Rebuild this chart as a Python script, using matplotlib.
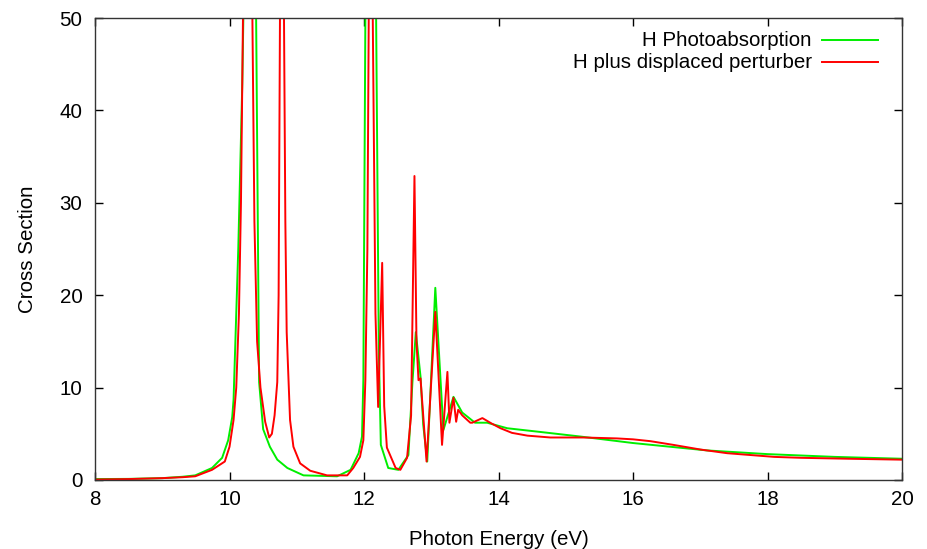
import numpy as np
import matplotlib.pyplot as plt
from matplotlib.lines import Line2D

plt.rcParams['font.family'] = ['Liberation Sans', 'DejaVu Sans']

# H photoabsorption (eV, cross section)
E_h = [8.0, 8.5, 9.0, 9.3, 9.49, 9.74, 9.89, 9.98, 10.04, 10.06, 10.13, 10.19,
       10.21, 10.30, 10.39, 10.44, 10.50, 10.60, 10.71, 10.86, 11.1, 11.6, 11.8,
       11.92, 11.97, 11.99, 12.02, 12.10, 12.18, 12.22, 12.25, 12.36, 12.51, 12.66,
       12.72, 12.77, 12.84, 12.88, 12.94, 13.06, 13.18, 13.33, 13.46, 13.65, 13.83,
       14.13, 14.62, 15.22, 16.0, 17.1, 18.0, 19.0, 20.0]
sig_h = [0.1, 0.12, 0.2, 0.35, 0.5, 1.3, 2.4, 4.3, 6.8, 8.7, 25.0, 43.0,
         52.0, 200.0, 55.0, 10.6, 5.5, 3.6, 2.2, 1.3, 0.5, 0.4, 1.1,
         2.9, 4.7, 10.8, 50.0, 200.0, 50.0, 14.0, 3.8, 1.3, 1.1, 2.7,
         10.6, 16.0, 11.2, 6.0, 2.0, 20.8, 5.4, 9.0, 7.3, 6.2, 6.2,
         5.6, 5.2, 4.7, 4.0, 3.2, 2.8, 2.5, 2.3]

# H with displaced perturber
E_p = [8.0, 8.5, 9.0, 9.3, 9.49, 9.74, 9.93, 10.0, 10.06, 10.10, 10.14, 10.17,
       10.20, 10.27, 10.34, 10.37, 10.41, 10.46, 10.53, 10.59, 10.63, 10.67, 10.71,
       10.73, 10.75, 10.78, 10.81, 10.83, 10.85, 10.90, 10.95, 11.05, 11.2, 11.45,
       11.75, 11.84, 11.94, 11.99, 12.02, 12.05, 12.07, 12.10, 12.13, 12.17, 12.21,
       12.27, 12.30, 12.34, 12.47, 12.54, 12.64, 12.70, 12.75, 12.78, 12.81, 12.84,
       12.93, 13.06, 13.16, 13.24, 13.27, 13.33, 13.37, 13.40, 13.46, 13.58, 13.61,
       13.76, 13.9, 14.03, 14.2, 14.43, 14.77, 15.26, 15.76, 16.0, 16.26, 16.6,
       17.0, 17.4, 17.75, 18.1, 18.5, 19.2, 20.0]
sig_p = [0.05, 0.1, 0.2, 0.3, 0.4, 1.1, 2.0, 3.6, 6.5, 10.0, 18.0, 30.0,
         50.0, 150.0, 50.0, 28.0, 15.0, 10.0, 6.3, 4.6, 5.0, 7.0, 10.6,
         20.0, 50.0, 200.0, 50.0, 28.0, 16.0, 6.5, 3.6, 1.8, 1.0, 0.5,
         0.5, 1.3, 2.5, 4.3, 10.8, 25.0, 50.0, 150.0, 50.0, 18.0, 7.9,
         23.5, 8.0, 3.5, 1.3, 1.1, 2.4, 7.0, 32.9, 15.0, 10.8, 11.0,
         2.0, 18.2, 3.8, 11.7, 6.2, 8.9, 6.3, 7.6, 7.0, 6.2, 6.2,
         6.7, 6.1, 5.6, 5.1, 4.8, 4.6, 4.6, 4.5, 4.4, 4.2, 3.8,
         3.3, 2.9, 2.7, 2.5, 2.4, 2.3, 2.2]

labels = ['H Photoabsorption', 'H plus displaced perturber']
colors = ['#00ee00', '#ff0000']

fs = 14.8

fig = plt.figure(figsize=(9.28, 5.49), dpi=100)
ax = fig.add_axes([0.1024, 0.1257, 0.8696, 0.8415])

ax.plot(E_h, sig_h, color=colors[0], lw=1.4)
ax.plot(E_p, sig_p, color=colors[1], lw=1.4)

ax.set_xlim(8, 20)
ax.set_ylim(0, 50)
ax.set_xticks(np.arange(8, 21, 2))
ax.set_yticks(np.arange(0, 51, 10))
ax.tick_params(direction='in', length=6, width=1, top=True, right=True,
               labelsize=fs)
ax.tick_params(axis='x', pad=7)
ax.tick_params(axis='y', pad=9)
for s in ax.spines.values():
    s.set_linewidth(1.0)
    s.set_color('#333333')

ax.set_xlabel('Photon Energy (eV)', fontsize=fs, labelpad=15)
ax.set_ylabel('Cross Section', fontsize=fs, labelpad=16)

# gnuplot-style key: right-aligned text followed by line sample
for i, (lab, c) in enumerate(zip(labels, colors)):
    y = 0.952 - i * 0.048
    ax.text(0.888, y, lab, transform=ax.transAxes, ha='right', va='center',
            fontsize=fs)
    ax.add_line(Line2D([0.901, 0.970], [y, y], transform=ax.transAxes,
                       color=c, lw=1.4))

fig.savefig('out.png', dpi=100)
